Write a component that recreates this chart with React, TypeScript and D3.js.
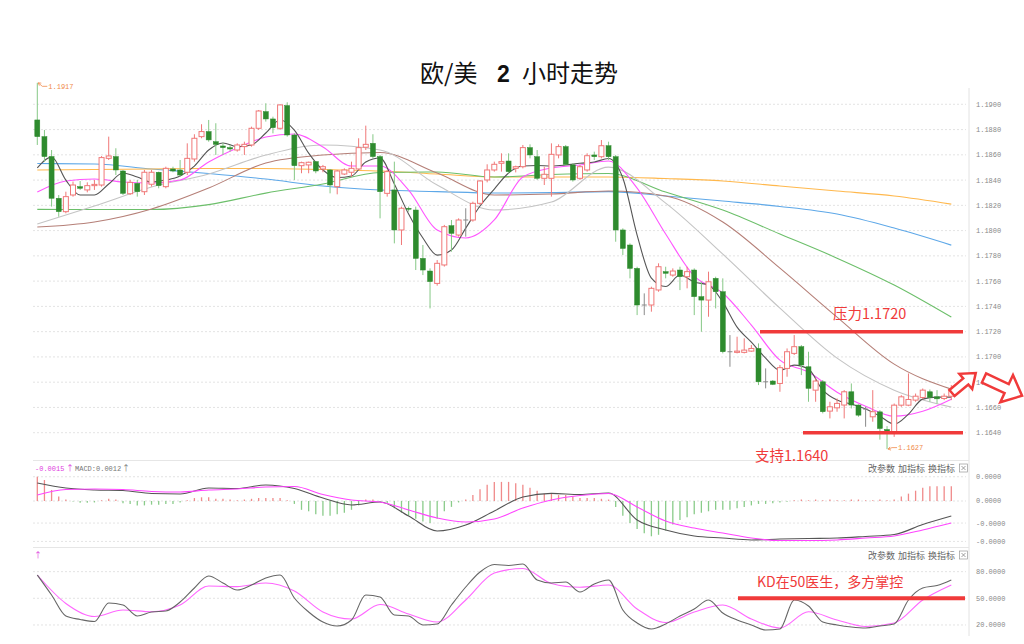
import React from 'react';
import * as d3 from 'd3';

// [open, high, low, close]
const candles: number[][] = [
[1.18876,1.19170,1.18678,1.18744],[1.18744,1.18797,1.18546,1.18586],[1.18586,1.18638,1.18190,1.18256],[1.18256,1.18282,1.18110,1.18150],
[1.18150,1.18308,1.18137,1.18269],[1.18282,1.18388,1.18269,1.18361],[1.18348,1.18393,1.18322,1.18335],[1.18322,1.18382,1.18303,1.18356],
[1.18356,1.18401,1.18322,1.18366],[1.18361,1.18590,1.18348,1.18578],[1.18572,1.18744,1.18559,1.18591],[1.18586,1.18652,1.18440,1.18480],
[1.18472,1.18480,1.18282,1.18295],[1.18292,1.18401,1.18282,1.18382],[1.18374,1.18401,1.18269,1.18308],[1.18308,1.18480,1.18282,1.18462],
[1.18367,1.18480,1.18348,1.18462],[1.18462,1.18467,1.18335,1.18356],[1.18348,1.18506,1.18335,1.18493],[1.18488,1.18506,1.18462,1.18472],
[1.18480,1.18559,1.18427,1.18440],[1.18462,1.18691,1.18440,1.18572],[1.18567,1.18763,1.18546,1.18731],[1.18744,1.18842,1.18731,1.18784],
[1.18784,1.18876,1.18704,1.18718],[1.18704,1.18850,1.18599,1.18683],[1.18670,1.18696,1.18599,1.18657],[1.18657,1.18678,1.18625,1.18646],
[1.18638,1.18691,1.18625,1.18678],[1.18665,1.18704,1.18599,1.18683],[1.18678,1.18823,1.18665,1.18810],[1.18810,1.18955,1.18797,1.18947],
[1.18942,1.19008,1.18863,1.18884],[1.18884,1.18902,1.18770,1.18815],[1.18810,1.19000,1.18797,1.18995],[1.18990,1.19016,1.18744,1.18757],
[1.18757,1.18770,1.18401,1.18514],[1.18514,1.18546,1.18454,1.18538],[1.18520,1.18546,1.18454,1.18541],[1.18546,1.18551,1.18454,1.18472],
[1.18488,1.18520,1.18462,1.18506],[1.18480,1.18488,1.18295,1.18361],[1.18348,1.18480,1.18287,1.18472],[1.18448,1.18493,1.18440,1.18480],
[1.18462,1.18546,1.18427,1.18493],[1.18488,1.18731,1.18480,1.18657],[1.18660,1.18831,1.18638,1.18683],[1.18691,1.18763,1.18572,1.18586],
[1.18586,1.18599,1.18097,1.18308],[1.18295,1.18480,1.18269,1.18467],[1.18322,1.18546,1.17899,1.18005],[1.18005,1.18190,1.17886,1.18177],
[1.18177,1.18190,1.18150,1.18171],[1.18163,1.18190,1.17688,1.17780],[1.17780,1.17886,1.17648,1.17688],[1.17680,1.17701,1.17384,1.17596],
[1.17582,1.17767,1.17564,1.17741],[1.17728,1.18045,1.17715,1.18031],[1.18039,1.18084,1.17833,1.17978],[1.17965,1.18097,1.17952,1.18084],
[1.18084,1.18177,1.17952,1.18084],[1.18084,1.18229,1.18071,1.18216],[1.18216,1.18401,1.18203,1.18393],[1.18401,1.18525,1.18382,1.18480],
[1.18480,1.18546,1.18467,1.18525],[1.18533,1.18612,1.18467,1.18546],[1.18551,1.18612,1.18453,1.18467],[1.18493,1.18514,1.18461,1.18506],
[1.18506,1.18678,1.18493,1.18657],[1.18657,1.18683,1.18572,1.18599],[1.18585,1.18638,1.18401,1.18414],[1.18414,1.18506,1.18361,1.18446],
[1.18414,1.18691,1.18269,1.18604],[1.18599,1.18683,1.18572,1.18665],[1.18665,1.18678,1.18520,1.18525],[1.18520,1.18533,1.18388,1.18401],
[1.18414,1.18520,1.18401,1.18506],[1.18480,1.18612,1.18467,1.18593],[1.18599,1.18625,1.18559,1.18585],[1.18585,1.18717,1.18572,1.18672],
[1.18672,1.18704,1.18559,1.18585],[1.18585,1.18599,1.17912,1.18005],[1.18005,1.18018,1.17807,1.17859],[1.17886,1.17899,1.17622,1.17701],
[1.17701,1.17714,1.17331,1.17411],[1.17411,1.17503,1.17331,1.17411],[1.17411,1.17556,1.17358,1.17543],[1.17530,1.17741,1.17516,1.17714],
[1.17675,1.17714,1.17622,1.17662],[1.17648,1.17701,1.17635,1.17680],[1.17688,1.17714,1.17529,1.17635],[1.17635,1.17714,1.17543,1.17675],
[1.17688,1.17701,1.17331,1.17477],[1.17477,1.17595,1.17199,1.17450],[1.17450,1.17675,1.17318,1.17595],[1.17622,1.17635,1.17384,1.17516],
[1.17516,1.17622,1.17028,1.17041],[1.17041,1.17173,1.16922,1.17041],[1.17036,1.17160,1.17028,1.17046],[1.17036,1.17147,1.17028,1.17054],
[1.17046,1.17094,1.17041,1.17067],[1.17067,1.17107,1.16777,1.16803],[1.16803,1.16909,1.16751,1.16803],[1.16809,1.16817,1.16777,1.16783],
[1.16790,1.16936,1.16724,1.16915],[1.16909,1.17067,1.16843,1.17041],[1.17028,1.17173,1.17015,1.17081],[1.17081,1.17094,1.16856,1.16936],
[1.16922,1.17041,1.16645,1.16751],[1.16737,1.16830,1.16645,1.16809],[1.16803,1.16817,1.16553,1.16566],[1.16571,1.16645,1.16513,1.16605],
[1.16597,1.16671,1.16566,1.16632],[1.16619,1.16737,1.16513,1.16724],[1.16724,1.16790,1.16592,1.16619],[1.16619,1.16624,1.16526,1.16539],
[1.16587,1.16605,1.16447,1.16587],[1.16526,1.16737,1.16487,1.16566],[1.16565,1.16578,1.16345,1.16433],[1.16425,1.16452,1.16270,1.16399],
[1.16394,1.16631,1.16367,1.16618],[1.16618,1.16697,1.16605,1.16684],[1.16618,1.16869,1.16610,1.16663],[1.16658,1.16710,1.16645,1.16689],
[1.16679,1.16750,1.16665,1.16737],[1.16724,1.16742,1.16645,1.16679],[1.16684,1.16737,1.16631,1.16668],[1.16671,1.16710,1.16658,1.16689],
[1.16689,1.16777,1.16658,1.16737],
];

const priceTicks = [1.1640, 1.1660, 1.1680, 1.1700, 1.1720, 1.1740, 1.1760, 1.1780, 1.1800, 1.1820, 1.1840, 1.1860, 1.1880, 1.1900];

const ma5 = [1.18496,1.18583,1.18400,1.18282,1.18282,1.18369,1.18456,1.18424,1.18385,1.18400,
1.18432,1.18511,1.18638,1.18694,1.18664,1.18678,1.18773,1.18876,1.18796,1.18614,
1.18480,1.18420,1.18432,1.18543,1.18575,1.18369,1.18131,1.17941,1.17806,1.17846,
1.18020,1.18195,1.18329,1.18456,1.18511,1.18515,1.18511,1.18519,1.18533,1.18543,
1.18571,1.18416,1.17965,1.17624,1.17557,1.17648,1.17593,1.17569,1.17434,1.17236,
1.17117,1.16991,1.16895,1.16935,1.16904,1.16737,1.16658,1.16626,1.16587,1.16531,
1.16468,1.16547,1.16666,1.16682,1.16682];
const ma10 = [1.18305,1.18393,1.18408,1.18385,1.18377,1.18400,1.18543,1.18654,1.18741,1.18765,1.18662,
1.18511,1.18511,1.18321,1.18004,1.17941,1.18084,1.18424,1.18496,1.18519,1.18551,1.18337,1.17973,
1.17640,1.17506,1.17252,1.16974,1.16880,1.16721,1.16610,1.16531,1.16570,1.16665];
const ma20 = [1.18052,1.18195,1.18345,1.18448,1.18598,1.18678,1.18638,1.18361,1.18163,1.18226,1.18503,1.18218,1.17814,1.17386,1.16990,1.16737,1.16603];
const ma30 = [1.18028,1.18068,1.18171,1.18337,1.18535,1.18598,1.18618,1.18456,1.18282,1.18290,1.18313,1.18274,1.18068,1.17703,1.17315,1.16943,1.16745];
const ma60 = [1.18168,1.18167,1.18167,1.18206,1.18297,1.18369,1.18460,1.18464,1.18424,1.18444,1.18452,1.18305,1.18163,1.17973,1.17782,1.17569,1.17315];
const ma120 = [1.18480,1.18484,1.18488,1.18492,1.18492,1.18484,1.18472,1.18448,1.18424,1.18424,1.18424,1.18412,1.18393,1.18353,1.18313,1.18274,1.18210];
const ma250 = [1.18531,1.18527,1.18488,1.18452,1.18408,1.18353,1.18321,1.18309,1.18298,1.18301,1.18309,1.18274,1.18234,1.18191,1.18131,1.18020,1.17885];

// MACD in units of 0.0001
const macdDif = [12.2,8.8,7.5,7.1,5.1,4.8,8.8,8.5,10.9,8.5,2.0,-2.7,-0.7,-10.2,-20.4,-16.3,-6.8,2.7,5.2,4.4,5.4,-12.9,-19.7,-23.8,-25.2,-26.5,-25.9,-25.5,-25.2,-24.1,-22.8,-16.0,-10.2];
const macdDea = [4.1,7.8,8.2,7.8,6.5,6.1,7.5,8.2,9.5,9.9,4.4,0.7,-0.7,-6.1,-11.6,-14.3,-12.2,-4.8,0.7,3.7,5.1,-4.1,-13.6,-18.4,-21.8,-25.2,-26.9,-26.9,-26.5,-25.2,-23.8,-19.7,-15.0];
const macdHist = [16.5,14.3,7.5,3,1,-0.3,-1.2,-1.2,-1,0.5,
1.5,1,-1.5,-2,-3,-3,-2.5,-2.5,-2,-2,
-1,0.5,2,2.5,2.5,1.5,1.5,1,0.5,1,
1.5,2,2,2,2,0.5,-2,-6,-7,-9,
-10,-10,-9,-8,-6,-3,1,1,-0.5,-2,
-5,-8,-10,-12,-14,-15,-12,-7,-4,-1,
1,4,8,11,13,13,13,12,11,9,
7,5,5,4,4,3,2,2,2,1.5,
1,-4,-10,-15,-19,-22,-24,-23,-20,-16,
-13,-11,-9,-8,-7,-6,-6,-6,-5,-4,
-3,-2,-2,-1.5,-1,-0.5,0.5,1,0.5,1,
0.5,1,0.5,0.5,1,1,0.5,0.5,1,0.5,
1,3,5,7,9,10,10,10,10];
const macdTicks = [16.5, 0, -15, -27.5];
const macdTickLabels = ['0.0000', '0.0000', '-0.0000', '-0.0000'];

// KD
const kdK = [76.2,53.7,30.1,26.2,23.9,44.7,42.5,30.1,34.6,35.7,
45.8,61.6,75.1,67.2,59.3,65.0,72.8,76.2,50.3,34.6,
23.3,18.8,25.6,53.7,51.5,31.2,30.1,20.0,21.1,42.5,
62.7,79.6,88.0,86.9,88.6,70.6,67.2,68.3,57.1,66.1,
70.6,36.8,22.2,15.5,21.1,30.1,38.0,48.1,33.5,25.6,
20.0,14.3,15.5,48.1,41.3,23.3,20.0,17.7,16.6,18.8,
21.1,48.1,61.6,64.4,70.6];
const kdD = [76.2,44.2,29.5,36.8,34.9,42.5,63.8,63.1,67.2,58.2,34.6,26.7,43.0,32.3,23.3,48.1,78.5,
83.5,66.7,62.4,65.0,38.0,22.8,34.6,42.5,26.7,16.6,34.9,25.6,18.3,22.2,48.1,65.0];
const kdTicks = [80, 50, 20];
const kdTickLabels = ['80.0000', '50.0000', '20.0000'];

const resistance = 1.1720;
const support = 1.1640;
const highLabel = 1.1917;
const lowLabel = 1.1627;

const RED = '#f03a3a';
const UP = '#f07878';
const DOWN = '#2e8b2e';
const DOWN_WICK = '#86c886';
const MONO = '"Liberation Mono", "DejaVu Sans Mono", monospace';
const CJK = '"Noto Sans CJK SC", "Noto Sans", sans-serif';

function blockArrow(len: number, shaft: number, head: number, headLen: number) {
  const s = shaft / 2, h = head / 2, b = len - headLen;
  return `M0,${-s}L${b},${-s}L${b},${-h}L${len},0L${b},${h}L${b},${s}L0,${s}Z`;
}

export default function App() {
  const x = d3.scaleLinear().domain([0, 128]).range([37.3, 951.3]);
  const y = d3.scaleLinear().domain([1.1640, 1.1900]).range([432.7, 104.3]);
  const yM = d3.scaleLinear().domain([-30, 27]).range([545.1, 461.3]);
  const yK = d3.scaleLinear().domain([0, 100]).range([642.75, 553.85]);
  const left = 33, right = 966, axisX = 969;

  const mk = (arr: number[], step: number, ys: (v: number) => number) =>
    d3.line<number>().x((_, i) => x(i * step)).y((v) => ys(v)).curve(d3.curveMonotoneX)(arr) || '';

  const maLines = [
    { d: ma250, step: 8, c: '#5ea8e8' },
    { d: ma120, step: 8, c: '#ffb84d' },
    { d: ma60, step: 8, c: '#6cbf6a' },
    { d: ma30, step: 8, c: '#b57f77' },
    { d: ma20, step: 8, c: '#c4c4c4' },
    { d: ma10, step: 4, c: '#ff55ff' },
    { d: ma5, step: 2, c: '#555555' },
  ];

  const btn = (yy: number) => (
    <g fontFamily={CJK} fontSize={9} fill="#666">
      <text x={868} y={yy}>改参数</text>
      <text x={898} y={yy}>加指标</text>
      <text x={928} y={yy}>换指标</text>
      <rect x={959.5} y={yy - 7.5} width={8} height={8} fill="none" stroke="#999" strokeWidth={0.7} />
      <path d={`M961.5,${yy - 5.5}L965.5,${yy - 1.5}M965.5,${yy - 5.5}L961.5,${yy - 1.5}`} stroke="#777" strokeWidth={0.7} />
    </g>
  );

  const hx = x(0), hy = y(highLabel);
  const lowIdx = 119;
  const lx = x(lowIdx), ly = y(lowLabel);

  return (
    <svg width={1024} height={644} style={{ position: 'absolute', left: 0, top: 0, background: '#fff' }}>
      <rect width={1024} height={644} fill="#fff" />
      {/* title */}
      <g fill="#111">
        <text x={420} y={82} fontFamily={CJK} fontSize={24}>欧/美</text>
        <text x={497} y={82} fontFamily='"Liberation Sans", Arial, sans-serif' fontSize={23} fontWeight="bold">2</text>
        <text x={522} y={82} fontFamily={CJK} fontSize={24}>小时走势</text>
      </g>

      {/* grid main */}
      {priceTicks.map((t) => (
        <g key={t}>
          <line x1={left} x2={right} y1={y(t)} y2={y(t)} stroke="#dcdcdc" strokeDasharray="2,2" strokeWidth={0.8} />
          <text x={976} y={y(t) + 2.5} fontFamily={MONO} fontSize={7} fill="#888">{t.toFixed(4)}</text>
        </g>
      ))}
      <line x1={axisX} x2={axisX} y1={88} y2={636} stroke="#e2e2e2" strokeWidth={1} />
      <line x1={left} x2={axisX} y1={460.5} y2={460.5} stroke="#e6e6e6" strokeWidth={1} />
      <line x1={left} x2={axisX} y1={547.5} y2={547.5} stroke="#e6e6e6" strokeWidth={1} />

      {/* moving averages */}
      {maLines.map((m, i) => (
        <path key={i} d={mk(m.d, m.step, y)} fill="none" stroke={m.c} strokeWidth={1.1} />
      ))}

      {/* candles */}
      {candles.map((c, i) => {
        const [o, h, l, cl] = c;
        const cx = x(i);
        const doji = Math.abs(cl - o) < 0.00002;
        const up = cl > o;
        if (doji) {
          return (
            <g key={i} stroke="#8a8a8a" strokeWidth={1}>
              <line x1={cx} x2={cx} y1={y(h)} y2={y(l)} />
              <line x1={cx - 2.5} x2={cx + 2.5} y1={y(o)} y2={y(o)} />
            </g>
          );
        }
        const top = y(Math.max(o, cl)), bot = y(Math.min(o, cl));
        return (
          <g key={i}>
            <line x1={cx} x2={cx} y1={y(h)} y2={y(l)} stroke={up ? UP : DOWN_WICK} strokeWidth={1} />
            <rect x={cx - 2.5} y={top} width={5} height={Math.max(1, bot - top)}
              fill={up ? '#fff' : DOWN} stroke={up ? UP : DOWN} strokeWidth={up ? 1 : 0.5} />
          </g>
        );
      })}

      {/* high / low labels */}
      <g stroke="#f08a4b" strokeWidth={0.8} fill="none">
        <path d={`M${hx + 1},${hy}L${hx + 5},${hy + 3.5}L${hx + 10},${hy + 3.5}`} />
        <path d={`M${hx + 1},${hy}L${hx + 4},${hy + 0.3}M${hx + 1},${hy}L${hx + 2},${hy + 2.8}`} />
        <path d={`M${lx + 1},${ly}L${lx + 5},${ly - 1.5}L${lx + 10},${ly - 1.5}`} />
        <path d={`M${lx + 1},${ly}L${lx + 4},${ly + 1}M${lx + 1},${ly}L${lx + 3},${ly - 2.2}`} />
      </g>
      <text x={hx + 11} y={hy + 6} fontFamily={MONO} fontSize={7} fill="#f08a4b">{highLabel.toFixed(4)}</text>
      <text x={lx + 11} y={ly + 1} fontFamily={MONO} fontSize={7} fill="#f08a4b">{lowLabel.toFixed(4)}</text>

      {/* resistance / support */}
      <line x1={760} x2={963} y1={y(resistance)} y2={y(resistance)} stroke={RED} strokeWidth={3.5} />
      <line x1={803} x2={963} y1={y(support)} y2={y(support)} stroke={RED} strokeWidth={3.5} />
      <text x={833} y={319} fontFamily={CJK} fontSize={14.5} fill={RED}>压力{resistance.toFixed(4)}</text>
      <text x={755} y={461} fontFamily={CJK} fontSize={14.5} fill={RED}>支持{support.toFixed(4)}</text>

      {/* arrows */}
      <path d={blockArrow(31, 8, 20, 13)} transform="translate(952,393) rotate(-40)" fill="#fff" stroke={RED} strokeWidth={2.5} strokeLinejoin="miter" />
      <path d={blockArrow(42, 10, 30, 17)} transform="translate(984,378) rotate(25)" fill="#fff" stroke={RED} strokeWidth={2.5} strokeLinejoin="miter" />

      {/* MACD panel */}
      {macdTicks.map((t, i) => (
        <g key={i}>
          <line x1={left} x2={right} y1={yM(t)} y2={yM(t)} stroke="#dcdcdc" strokeDasharray="2,2" strokeWidth={0.8} />
          <text x={976} y={yM(t) + 2.5} fontFamily={MONO} fontSize={7} fill="#888">{macdTickLabels[i]}</text>
        </g>
      ))}
      {macdHist.map((v, i) => (
        <line key={i} x1={x(i)} x2={x(i)} y1={yM(0)} y2={yM(v)} stroke={v >= 0 ? '#f08a8a' : '#8acb8a'} strokeWidth={1.3} />
      ))}
      <path d={mk(macdDif, 4, yM)} fill="none" stroke="#555" strokeWidth={1.1} />
      <path d={mk(macdDea, 4, yM)} fill="none" stroke="#ff44ff" strokeWidth={1.1} />
      <text x={35} y={470.5} fontFamily={MONO} fontSize={7} fill="#e040e0">-0.0015</text>
      <text x={66} y={470.5} fontFamily={CJK} fontSize={8} fill="#e040e0">↑</text>
      <text x={75} y={470.5} fontFamily={MONO} fontSize={7} fill="#777">MACD:0.0012</text>
      <text x={122} y={470.5} fontFamily={CJK} fontSize={8} fill="#777">↑</text>
      {btn(471.5)}

      {/* KD panel */}
      {kdTicks.map((t, i) => (
        <g key={i}>
          <line x1={left} x2={right} y1={yK(t)} y2={yK(t)} stroke="#dcdcdc" strokeDasharray="2,2" strokeWidth={0.8} />
          <text x={976} y={yK(t) + 2.5} fontFamily={MONO} fontSize={7} fill="#888">{kdTickLabels[i]}</text>
        </g>
      ))}
      <path d={mk(kdD, 4, yK)} fill="none" stroke="#ff66ff" strokeWidth={1.1} />
      <path d={mk(kdK, 2, yK)} fill="none" stroke="#666" strokeWidth={1.1} />
      <text x={34} y={558} fontFamily={CJK} fontSize={8} fill="#e040e0">↑</text>
      {btn(558.5)}
      <line x1={738} x2={965} y1={yK(50)} y2={yK(50)} stroke={RED} strokeWidth={4} />
      <text x={757} y={587} fontFamily={CJK} fontSize={14} fill={RED}>KD在50医生，多方掌控</text>
    </svg>
  );
}
